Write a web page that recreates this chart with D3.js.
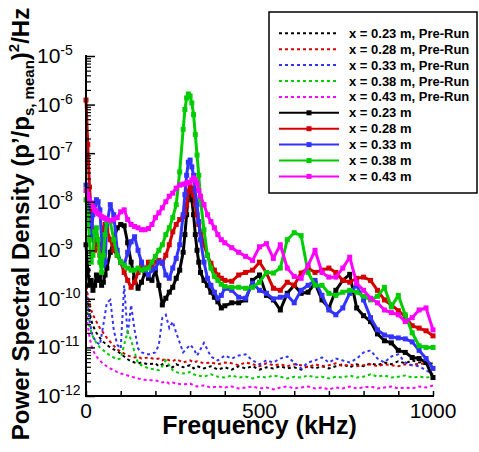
<!DOCTYPE html>
<html><head><meta charset="utf-8">
<script src="https://cdn.jsdelivr.net/npm/d3@7"></script>
<style>body{margin:0;background:#fff}svg{display:block;font-family:"Liberation Sans",Arial,sans-serif}</style>
</head><body><svg id="c" width="479" height="452"></svg>
<script>
// ---------- DATA ----------
const freqRun = [0,5,10,15,20,25,30,35,40,45,50,55,60,70,80,90,100,110,120,130,140,150,160,170,180,190,200,210,220,230,240,250,260,270,280,285,290,295,300,305,310,315,320,325,330,340,350,360,370,380,390,400,420,440,460,480,500,520,540,560,580,600,620,640,660,680,700,720,740,760,780,800,820,840,860,880,900,920,940,960,980,1000];
const run023 = [1.3e-9,3.9e-10,1.9e-10,2.4e-10,1.5e-10,1.9e-10,3.1e-10,2.4e-10,2.9e-10,1.9e-10,
 2.2e-10,3.1e-10,4.3e-10,9.1e-10,1.65e-9,2.9e-9,3.4e-9,3.2e-9,1.43e-9,5.7e-10,
 2.65e-10,1.65e-10,2.2e-10,3.5e-10,2.65e-10,2.4e-10,3.9e-10,1.9e-10,7.5e-11,1.03e-10,
 1.37e-10,1.73e-10,2.65e-10,3.9e-10,9.1e-10,2.1e-9,5.4e-9,1.4e-8,1.7e-8,1.1e-8,
 5.4e-9,2.1e-9,1.0e-9,5.7e-10,3.5e-10,2.4e-10,1.9e-10,1.37e-10,1.08e-10,8.7e-11,
 6.5e-11,7.2e-11,8.3e-11,8.3e-11,9.5e-11,2.4e-10,3.1e-10,1.18e-10,9.5e-11,5.9e-11,
 1.3e-10,1.9e-10,1.3e-10,1.37e-10,2.1e-10,9.5e-11,6.5e-11,1.5e-10,2.4e-10,3.2e-10,
 6.5e-11,4.5e-11,3.4e-11,1.9e-11,1.37e-11,1.24e-11,8.7e-12,7.9e-12,6.2e-12,5.9e-12,
 4.9e-12,2.4e-12];
const run028 = [1.24e-6,1.5e-7,2.0e-8,6.8e-9,2.1e-9,1.0e-9,1.65e-9,1.3e-9,7.9e-10,1.65e-9,
 2.9e-9,3.4e-9,2.65e-9,1.65e-9,1.0e-9,7.9e-10,5.7e-10,3.5e-10,2.4e-10,1.73e-10,
 2.2e-10,3.5e-10,4.9e-10,3.9e-10,5.7e-10,4.9e-10,5.7e-10,6.2e-10,5.4e-10,7.9e-10,
 1.3e-9,2.4e-9,3.4e-9,4.3e-9,4.9e-9,5.9e-9,8.7e-9,1.6e-8,2.0e-8,1.9e-8,
 1.4e-8,8.7e-9,5.4e-9,3.4e-9,2.4e-9,1.3e-9,7.9e-10,5.4e-10,3.9e-10,3.1e-10,
 2.65e-10,2.4e-10,2.3e-10,3.1e-10,3.5e-10,3.9e-10,5.7e-10,3.4e-10,1.65e-10,1.5e-10,
 2.2e-10,1.9e-10,3.4e-10,4.3e-10,3.5e-10,3.9e-10,4.3e-10,3.5e-10,2.4e-10,2.2e-10,
 2.65e-10,2.8e-10,2.4e-10,1.5e-10,9.5e-11,7.5e-11,5.7e-11,4.3e-11,2.8e-11,2.5e-11,
 2.2e-11,1.73e-11];
const run033 = [2.2e-8,1.4e-8,3.4e-9,1.65e-9,5.4e-9,8.7e-9,1.1e-8,1.0e-8,6.8e-9,1.65e-9,
 4.9e-10,5.7e-10,3.4e-9,8.7e-9,5.4e-9,1.0e-9,5.7e-10,4.9e-10,9.1e-10,1.5e-9,
 1.9e-9,1.0e-9,5.7e-10,3.9e-10,3.1e-10,3.9e-10,4.3e-10,5.7e-10,5.7e-10,3.1e-10,
 2.65e-10,4.3e-10,6.8e-10,1.3e-9,5.4e-9,1.4e-8,3.5e-8,6.5e-8,7.2e-8,5.2e-8,
 3.5e-8,1.7e-8,8.7e-9,3.9e-9,1.65e-9,5.7e-10,2.65e-10,1.9e-10,1.37e-10,1.03e-10,
 1.18e-10,1.65e-10,1.5e-10,1.08e-10,1.03e-10,2.1e-10,1.5e-10,1.3e-10,1.0e-10,1.08e-10,
 1.18e-10,8.3e-11,1.5e-10,1.9e-10,2.4e-10,1.18e-10,5.9e-11,4.7e-11,6.5e-11,1.3e-10,
 1.9e-10,9.5e-11,4.1e-11,2.3e-11,1.8e-11,1.65e-11,1.57e-11,1.5e-11,1.3e-11,8.7e-12,
 5.9e-12,3.7e-12];
const run038 = [1.1e-8,5.4e-9,1.65e-9,5.7e-10,7.9e-10,2.4e-9,2.9e-9,1.65e-9,5.7e-10,3.5e-10,
 7.9e-10,2.1e-9,3.9e-9,3.9e-9,1.65e-9,7.9e-10,5.7e-10,4.9e-10,4.3e-10,3.9e-10,
 3.9e-10,4.3e-10,3.9e-10,4.1e-10,4.3e-10,5.7e-10,7.5e-10,1.0e-9,1.3e-9,2.1e-9,
 2.9e-9,4.7e-9,8.7e-9,4.1e-8,3.1e-7,7.9e-7,1.37e-6,1.65e-6,1.5e-6,1.08e-6,
 6.2e-7,2.4e-7,9.1e-8,3.5e-8,1.1e-8,2.65e-9,7.9e-10,4.3e-10,2.9e-10,2.4e-10,
 2.0e-10,1.8e-10,1.73e-10,1.73e-10,1.65e-10,1.73e-10,2.2e-10,3.5e-10,3.4e-10,4.3e-10,
 1.65e-9,2.3e-9,2.0e-9,3.5e-10,1.9e-10,1.9e-10,1.3e-10,1.18e-10,1.37e-10,1.5e-10,
 1.37e-10,1.13e-10,9.5e-11,1.13e-10,1.73e-10,6.8e-11,1.18e-10,4.7e-11,2.0e-11,1.08e-11,
 1.0e-11,1.0e-11];
const run043 = [1.7e-8,1.4e-8,1.1e-8,9.5e-9,7.9e-9,6.8e-9,6.2e-9,5.7e-9,5.4e-9,4.9e-9,
 4.7e-9,4.5e-9,4.3e-9,4.1e-9,4.3e-9,4.7e-9,6.2e-9,6.8e-9,4.3e-9,3.4e-9,
 3.1e-9,2.9e-9,2.65e-9,2.65e-9,2.8e-9,3.4e-9,4.7e-9,5.9e-9,7.5e-9,1.0e-8,
 1.3e-8,1.5e-8,1.9e-8,2.2e-8,2.3e-8,2.3e-8,2.4e-8,2.5e-8,2.5e-8,2.8e-8,
 3.1e-8,2.8e-8,2.4e-8,1.7e-8,1.3e-8,8.7e-9,5.4e-9,3.9e-9,2.9e-9,2.1e-9,
 1.65e-9,1.43e-9,1.13e-9,9.1e-10,7.5e-10,6.2e-10,1.18e-9,1.37e-9,6.8e-10,1.3e-9,
 4.3e-10,2.9e-10,2.65e-10,4.9e-10,1.0e-9,3.5e-10,2.8e-10,2.8e-10,4.3e-10,7.2e-10,
 2.1e-10,1.5e-10,1.03e-10,8.3e-11,5.9e-11,5.2e-11,4.7e-11,3.4e-11,4.1e-11,5.9e-11,
 6.5e-11,2.3e-11];

const freqPre = [0,5,10,15,20,30,40,50,60,70,80,90,100,110,120,130,140,150,160,180,200,210,220,230,240,250,260,280,300,310,320,340,360,380,400,420,440,460,480,500,520,540,560,580,600,620,640,660,680,700,720,740,760,780,800,820,840,860,880,900,920,940,960,980,1000];
const pre023 = [1.9e-10,9.5e-11,5.4e-11,3.7e-11,2.8e-11,2.0e-11,1.57e-11,1.3e-11,1.13e-11,1.0e-11,
 9.1e-12,8.3e-12,7.5e-12,6.5e-12,5.7e-12,5.2e-12,4.9e-12,4.7e-12,4.9e-12,4.5e-12,
 4.7e-12,4.1e-12,4.5e-12,4.1e-12,4.3e-12,3.9e-12,4.5e-12,3.9e-12,4.3e-12,3.7e-12,
 4.1e-12,3.7e-12,4.1e-12,3.5e-12,3.9e-12,3.5e-12,4.1e-12,3.7e-12,4.1e-12,3.5e-12,
 3.9e-12,3.7e-12,4.1e-12,3.7e-12,3.9e-12,3.5e-12,4.1e-12,3.7e-12,4.1e-12,3.7e-12,
 4.1e-12,4.5e-12,3.9e-12,4.5e-12,4.1e-12,4.7e-12,4.3e-12,4.9e-12,4.5e-12,5.2e-12,
 4.7e-12,5.4e-12,4.9e-12,5.2e-12,4.5e-12];
const pre028 = [2.4e-10,1.18e-10,8.3e-11,5.9e-11,4.7e-11,3.4e-11,2.5e-11,2.0e-11,1.57e-11,1.3e-11,
 1.08e-11,9.1e-12,8.3e-12,7.5e-12,6.8e-12,6.5e-12,6.2e-12,6.5e-12,5.9e-12,6.2e-12,
 5.7e-12,5.9e-12,5.4e-12,5.9e-12,5.4e-12,5.2e-12,5.7e-12,4.9e-12,5.4e-12,4.9e-12,
 5.2e-12,4.7e-12,4.9e-12,4.5e-12,4.9e-12,4.7e-12,4.3e-12,4.9e-12,4.5e-12,4.1e-12,
 4.7e-12,4.3e-12,4.5e-12,4.1e-12,4.5e-12,4.3e-12,3.9e-12,4.5e-12,4.1e-12,4.3e-12,
 4.7e-12,4.1e-12,4.5e-12,4.1e-12,4.3e-12,4.5e-12,4.1e-12,4.5e-12,4.3e-12,4.1e-12,
 4.5e-12,4.3e-12,4.7e-12,4.5e-12,4.9e-12];
const pre033 = [1.5e-10,7.5e-11,3.7e-11,2.3e-11,1.65e-11,1.3e-11,1.13e-11,2.9e-11,8.3e-11,9.5e-11,
 2.3e-11,1.13e-11,9.5e-12,1.9e-10,1.8e-11,7.5e-11,2.3e-11,9.5e-12,7.9e-12,7.2e-12,
 7.9e-12,1.13e-11,4.1e-11,4.7e-11,2.5e-11,3.4e-11,2.0e-11,7.9e-12,1.13e-11,9.5e-12,
 6.8e-12,1.24e-11,6.5e-12,5.4e-12,6.8e-12,5.9e-12,6.8e-12,7.2e-12,5.4e-12,4.5e-12,
 5.4e-12,4.9e-12,5.9e-12,6.5e-12,4.9e-12,3.7e-12,4.9e-12,5.4e-12,6.2e-12,4.9e-12,
 5.9e-12,5.4e-12,4.9e-12,5.9e-12,7.9e-12,8.7e-12,5.9e-12,4.9e-12,6.5e-12,7.2e-12,
 4.9e-12,4.3e-12,4.1e-12,3.4e-12,2.8e-12];
const pre038 = [9.5e-11,4.1e-11,2.8e-11,2.1e-11,1.65e-11,1.24e-11,1.0e-11,8.7e-12,7.5e-12,6.8e-12,
 6.2e-12,5.7e-12,5.9e-12,1.13e-11,2.1e-11,1.43e-11,7.9e-12,4.7e-12,4.3e-12,3.7e-12,
 3.5e-12,3.4e-12,4.1e-12,5.4e-12,4.3e-12,3.4e-12,3.1e-12,2.9e-12,3.1e-12,2.8e-12,
 2.65e-12,2.5e-12,2.8e-12,2.5e-12,2.4e-12,2.65e-12,2.4e-12,2.5e-12,2.3e-12,2.5e-12,
 2.4e-12,2.65e-12,2.5e-12,2.3e-12,2.5e-12,2.4e-12,2.65e-12,2.4e-12,2.5e-12,2.3e-12,
 2.5e-12,2.4e-12,2.65e-12,2.4e-12,2.5e-12,2.8e-12,2.5e-12,2.65e-12,2.4e-12,2.5e-12,
 2.65e-12,2.4e-12,2.5e-12,2.4e-12,2.5e-12];
const pre043 = [5.9e-11,2.9e-11,1.65e-11,1.13e-11,8.7e-12,6.5e-12,5.4e-12,4.5e-12,4.1e-12,3.7e-12,
 3.4e-12,3.1e-12,2.9e-12,2.8e-12,2.65e-12,2.5e-12,2.4e-12,2.3e-12,2.2e-12,2.1e-12,
 2.1e-12,2.0e-12,1.9e-12,2.0e-12,1.8e-12,1.9e-12,1.8e-12,1.73e-12,1.8e-12,1.65e-12,
 1.57e-12,1.65e-12,1.5e-12,1.57e-12,1.5e-12,1.57e-12,1.43e-12,1.5e-12,1.57e-12,1.43e-12,
 1.5e-12,1.37e-12,1.5e-12,1.57e-12,1.43e-12,1.5e-12,1.57e-12,1.43e-12,1.5e-12,1.37e-12,
 1.5e-12,1.43e-12,1.57e-12,1.43e-12,1.5e-12,1.57e-12,1.43e-12,1.5e-12,1.57e-12,1.43e-12,
 1.5e-12,1.43e-12,1.57e-12,1.5e-12,1.65e-12];

const seriesNames = ["x = 0.23 m, Pre-Run","x = 0.28 m, Pre-Run","x = 0.33 m, Pre-Run","x = 0.38 m, Pre-Run","x = 0.43 m, Pre-Run",
  "x = 0.23 m","x = 0.28 m","x = 0.33 m","x = 0.38 m","x = 0.43 m"];
const seriesColors = ["#000000","#d40000","#3333ff","#00cc00","#ff00ff"];
const yTickExponents = [-12,-11,-10,-9,-8,-7,-6,-5];
const xTickLabels = [0,500,1000];
const xMinorTicks = [0,100,200,300,400,500,600,700,800,900,1000];

// ---------- LAYOUT ----------
const svg = d3.select("#c");
const x = d3.scaleLinear().domain([0,1000]).range([86,433]);
const y = d3.scaleLog().domain([1e-12,1e-5]).range([396,56]);

const preSets = [pre023,pre028,pre033,pre038,pre043];
const runSets = [run023,run028,run033,run038,run043];

const line = d3.line().x(d=>x(d[0])).y(d=>y(d[1]));

const gData = svg.append("g");
preSets.forEach((vals,i)=>{
  const pts = freqPre.map((f,j)=>[f,vals[j]]).filter(d=>d[1]!=null);
  gData.append("path").attr("d",line(pts)).attr("fill","none")
    .attr("stroke",seriesColors[i]).attr("stroke-width",2).attr("stroke-dasharray","3,3");
});
runSets.forEach((vals,i)=>{
  const pts = freqRun.map((f,j)=>[f,vals[j]]).filter(d=>d[1]!=null);
  gData.append("path").attr("d",line(pts)).attr("fill","none")
    .attr("stroke",seriesColors[i]).attr("stroke-width",3).attr("stroke-linejoin","round");
  gData.append("g").selectAll("rect").data(pts).join("rect")
    .attr("x",d=>x(d[0])-2.5).attr("y",d=>y(d[1])-2.5).attr("width",5).attr("height",5)
    .attr("fill",seriesColors[i]);
});

// ---------- AXES ----------
const gAx = svg.append("g");
// y minor ticks
const minorY = [];
for (let e=-12;e<-5;e++) for (let m=2;m<=9;m++) minorY.push(m*Math.pow(10,e));
gAx.append("g").attr("transform","translate(86,0)")
  .call(d3.axisLeft(y).tickValues(minorY).tickSize(-5).tickFormat(""))
  .call(g=>g.select(".domain").remove())
  .call(g=>g.selectAll("line").attr("stroke","#000").attr("stroke-width",1.2));
gAx.append("g").attr("transform","translate(86,0)")
  .call(d3.axisLeft(y).tickValues(yTickExponents.map(e=>Math.pow(10,e))).tickSize(-9).tickFormat(""))
  .call(g=>g.select(".domain").remove())
  .call(g=>g.selectAll("line").attr("stroke","#000").attr("stroke-width",1.5));
gAx.append("g").attr("transform","translate(0,396)")
  .call(d3.axisBottom(x).tickValues(xMinorTicks).tickSize(-5).tickFormat(""))
  .call(g=>g.select(".domain").remove())
  .call(g=>g.selectAll("line").attr("stroke","#000").attr("stroke-width",1.5));
gAx.append("line").attr("x1",86).attr("x2",86).attr("y1",55).attr("y2",397).attr("stroke","#000").attr("stroke-width",2);
gAx.append("line").attr("x1",85).attr("x2",434).attr("y1",396).attr("y2",396).attr("stroke","#000").attr("stroke-width",2);

// y labels
const yl = gAx.append("g").selectAll("text").data(yTickExponents).join("text")
  .attr("x",37).attr("y",e=>y(Math.pow(10,e))+7).attr("font-size",21).attr("fill","#000");
yl.append("tspan").text("10");
yl.append("tspan").attr("font-size",14).attr("dy",-8).text(e=>String(e).replace("-","-"));
// x labels
gAx.append("g").selectAll("text").data(xTickLabels).join("text")
  .attr("x",d=>x(d)).attr("y",418).attr("text-anchor","middle").attr("font-size",21).text(d=>d);

// titles
svg.append("text").attr("x",259.5).attr("y",434).attr("text-anchor","middle")
  .attr("font-size",25).attr("font-weight","bold").text("Frequency (kHz)");
const yt = svg.append("text").attr("transform","translate(29,224) rotate(-90)")
  .attr("text-anchor","middle").attr("font-size",24).attr("font-weight","bold");
yt.append("tspan").text("Power Spectral Density (p’/p");
yt.append("tspan").attr("font-size",15).attr("dy",5).text("s, mean");
yt.append("tspan").attr("dy",-5).text(")");
yt.append("tspan").attr("font-size",15).attr("dy",-10).text("2");
yt.append("tspan").attr("dy",10).text("/Hz");

// ---------- LEGEND ----------
const lg = svg.append("g");
lg.append("rect").attr("x",269).attr("y",12).attr("width",208).attr("height",181)
  .attr("fill","#fff").attr("stroke","#000").attr("stroke-width",1.5);
seriesNames.forEach((name,i)=>{
  const yy = 33.3 + i*15.9;
  const col = seriesColors[i%5];
  const pre = i<5;
  lg.append("line").attr("x1",279).attr("x2",339).attr("y1",yy).attr("y2",yy)
    .attr("stroke",col).attr("stroke-width",2).attr("stroke-dasharray",pre?"3,3":null);
  if(!pre) lg.append("rect").attr("x",306.5).attr("y",yy-2.5).attr("width",5).attr("height",5).attr("fill",col);
  lg.append("text").attr("x",349).attr("y",yy+4.5).attr("font-size",13).attr("font-weight","bold").text(name);
});
</script></body></html>
